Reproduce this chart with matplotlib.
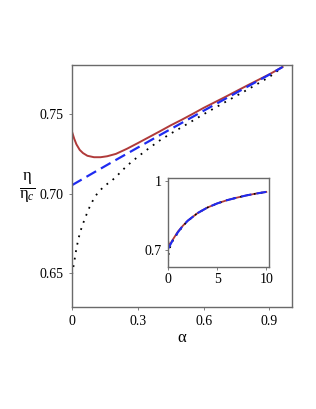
import numpy as np
import matplotlib
matplotlib.use('Agg')
import matplotlib.pyplot as plt

plt.rcParams['font.family'] = ['Liberation Serif', 'DejaVu Serif']
plt.rcParams['mathtext.fontset'] = 'custom'
plt.rcParams['mathtext.rm'] = 'Liberation Serif'
plt.rcParams['mathtext.it'] = 'Liberation Serif:italic'

# main panel: efficiency ratio vs alpha
alpha_red = [0, 0.01, 0.02, 0.035, 0.05, 0.07, 0.1, 0.13, 0.16, 0.2, 0.25, 0.3,
             0.35, 0.4, 0.45, 0.5, 0.55, 0.6, 0.7, 0.8, 0.9, 0.96]
eta_red = [0.7389, 0.7345, 0.7310, 0.7275, 0.7255, 0.7238, 0.7229, 0.7229, 0.7235,
           0.7250, 0.7282, 0.7318, 0.7355, 0.7392, 0.7430, 0.7465, 0.7502, 0.7540,
           0.7610, 0.7682, 0.7752, 0.7798]

alpha_blue = [0, 0.1, 0.2, 0.3, 0.4, 0.5, 0.6, 0.7, 0.8, 0.9, 0.96]
eta_blue = [0.7053, 0.7133, 0.7212, 0.7290, 0.7368, 0.7445, 0.7522, 0.7598,
            0.7674, 0.7750, 0.7798]

alpha_dot = [0, 0.005, 0.01, 0.02, 0.03, 0.04, 0.05, 0.06, 0.08, 0.1, 0.12, 0.15,
             0.18, 0.2, 0.25, 0.3, 0.35, 0.4, 0.45, 0.5, 0.6, 0.7, 0.8, 0.9, 0.96]
eta_dot = [0.649, 0.653, 0.657, 0.6655, 0.672, 0.677, 0.681, 0.6848, 0.6915, 0.697,
           0.701, 0.705, 0.708, 0.7105, 0.7175, 0.7232, 0.7285, 0.7335, 0.7378,
           0.7418, 0.7500, 0.7578, 0.7655, 0.7735, 0.7798]

# inset: same quantities over a wider alpha range
alpha_in = [0, 0.1, 0.25, 0.5, 1, 1.5, 2, 3, 4, 5, 6, 7, 8, 9, 10]
eta_in_red = [0.739, 0.723, 0.728, 0.7465, 0.780, 0.805, 0.827, 0.860, 0.884,
              0.902, 0.916, 0.927, 0.937, 0.945, 0.952]
eta_in_blue = [0.705, 0.713, 0.725, 0.7445, 0.777, 0.805, 0.827, 0.860, 0.884,
               0.902, 0.916, 0.927, 0.937, 0.945, 0.952]
eta_in_dot = [0.649, 0.697, 0.7175, 0.7418, 0.774, 0.803, 0.826, 0.860, 0.884,
              0.902, 0.916, 0.927, 0.937, 0.945, 0.952]

red = '#b03a3a'
blue = '#1f2bf0'
frame = '#6a6a6a'
dotted = (0, (1, 3.2))
dashed = (0, (5, 2.5))

fig = plt.figure(figsize=(3.16, 4.09), dpi=100)
ax = fig.add_axes([0.228, 0.2494, 0.6976, 0.5916])

ax.plot(alpha_red, eta_red, color=red, lw=1.4)
ax.plot(alpha_dot, eta_dot, color='black', lw=1.3, ls=dotted)
ax.plot(alpha_blue, eta_blue, color=blue, lw=1.6, ls=dashed)

ax.set_xlim(0, 1.005)
ax.set_ylim(0.6285, 0.781)
ax.set_xticks([0, 0.3, 0.6, 0.9])
ax.set_xticklabels(['0', '0.3', '0.6', '0.9'])
ax.set_yticks([0.65, 0.70, 0.75])
ax.set_yticklabels(['0.65', '0.70', '0.75'])
ax.tick_params(direction='out', length=2.5, width=0.6, color=frame,
               labelsize=10, pad=3.5)
for s in ax.spines.values():
    s.set_color(frame)
    s.set_linewidth(1.0)
ax.set_xlabel(r'$\mathrm{\alpha}$', fontsize=12, labelpad=1)
fig.text(27 / 316, 1 - 188 / 409, r'$\frac{\mathrm{\eta}}{\mathrm{\eta}_c}$',
         fontsize=17, ha='center', va='center')

# inset
ins = fig.add_axes([0.532, 0.3476, 0.320, 0.2176])
ins.plot(alpha_in, eta_in_red, color=red, lw=1.3)
ins.plot(alpha_in, eta_in_dot, color='black', lw=1.2, ls=dotted)
ins.plot(alpha_in, eta_in_blue, color=blue, lw=1.5, ls=dashed)
ins.set_xlim(0, 10.3)
ins.set_ylim(0.627, 1.013)
ins.set_xticks([0, 5, 10])
ins.set_yticks([0.7, 1])
ins.set_yticklabels(['0.7', '1'])
ins.tick_params(direction='out', length=2.5, width=0.6, color=frame,
                labelsize=10, pad=2)
for s in ins.spines.values():
    s.set_color(frame)
    s.set_linewidth(1.0)

fig.savefig('out.png', dpi=100)
